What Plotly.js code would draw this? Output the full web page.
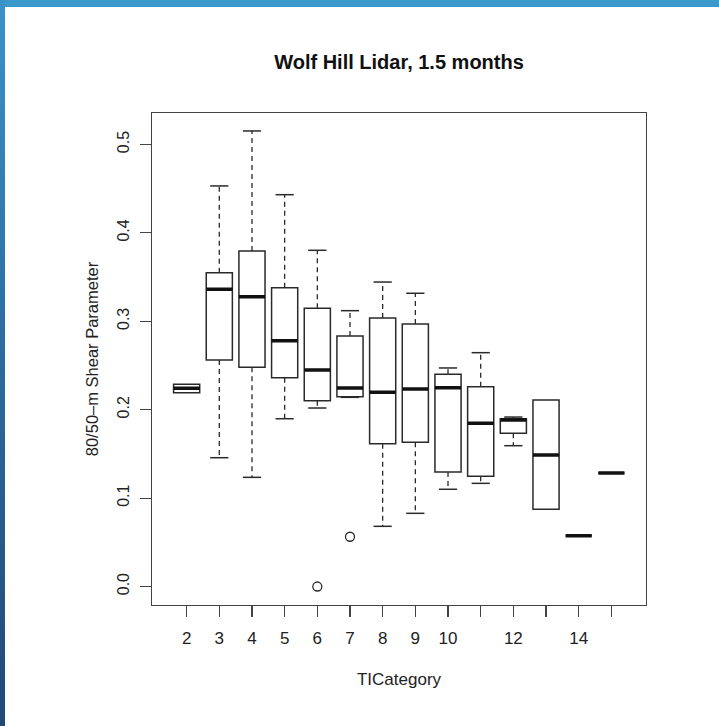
<!DOCTYPE html>
<html>
<head>
<meta charset="utf-8">
<script src="https://cdn.plot.ly/plotly-3.0.1.min.js"></script>
<style>
  html, body { margin: 0; padding: 0; background: #ffffff; overflow: hidden; }
  #topband { position: absolute; left: 0; top: 0; width: 719px; height: 7px; background: #3b98cb; z-index: 2; }
  #leftband { position: absolute; left: 0; top: 0; width: 5px; height: 726px;
              background: linear-gradient(to bottom, #3a93c8 0%, #2d6ea3 45%, #224876 100%); z-index: 2; }
  #chart { position: absolute; left: 0; top: 0; width: 719px; height: 726px; }
</style>
</head>
<body>
<div id="chart"></div>
<div id="topband"></div>
<div id="leftband"></div>
<script>
// ---- data ----
var categories = [2, 3, 4, 5, 6, 7, 8, 9, 10, 11, 12, 13, 14, 15];
var tickLabels = ['2', '3', '4', '5', '6', '7', '8', '9', '10', '', '12', '', '14', ''];
var lowerWhisker = [0.2192, 0.1457, 0.1235, 0.1898, 0.2019, 0.2140, 0.0681, 0.0828, 0.1100, 0.1167, 0.1593, 0.0873, 0.0575, 0.1284];
var q1Values     = [0.2192, 0.2562, 0.2480, 0.2362, 0.2102, 0.2147, 0.1615, 0.1631, 0.1295, 0.1247, 0.1733, 0.0873, 0.0575, 0.1284];
var medianValues = [0.2242, 0.3362, 0.3278, 0.2780, 0.2449, 0.2245, 0.2197, 0.2234, 0.2249, 0.1846, 0.1883, 0.1488, 0.0575, 0.1284];
var q3Values     = [0.2287, 0.3550, 0.3795, 0.3380, 0.3147, 0.2834, 0.3037, 0.2969, 0.2400, 0.2260, 0.1898, 0.2110, 0.0575, 0.1284];
var upperWhisker = [0.2287, 0.4531, 0.5153, 0.4432, 0.3803, 0.3120, 0.3444, 0.3317, 0.2472, 0.2645, 0.1917, 0.2110, 0.0575, 0.1284];
var outlierCats   = [6, 7];
var outlierValues = [0.0, 0.0563];

// ---- build traces ----
var ink = '#2a2a2a';
var wx = [], wy = [], cx = [], cy = [];
for (var i = 0; i < categories.length; i++) {
  if (upperWhisker[i] > q3Values[i]) {
    wx.push(categories[i], categories[i], null);
    wy.push(q3Values[i], upperWhisker[i], null);
    cx.push(categories[i]); cy.push(upperWhisker[i]);
  }
  if (lowerWhisker[i] < q1Values[i]) {
    wx.push(categories[i], categories[i], null);
    wy.push(q1Values[i], lowerWhisker[i], null);
    cx.push(categories[i]); cy.push(lowerWhisker[i]);
  }
}

var boxes = {
  type: 'box', x: categories,
  q1: q1Values, median: medianValues, q3: q3Values,
  lowerfence: q1Values, upperfence: q3Values,
  width: 0.8, whiskerwidth: 0, boxpoints: false,
  fillcolor: '#ffffff', line: { color: ink, width: 1.5 },
  hoverinfo: 'skip', showlegend: false
};
var medians = {
  type: 'box', x: categories,
  q1: medianValues, median: medianValues, q3: medianValues,
  lowerfence: medianValues, upperfence: medianValues,
  width: 0.8, whiskerwidth: 0, boxpoints: false,
  fillcolor: 'rgba(0,0,0,0)', line: { color: '#111111', width: 3.5 },
  hoverinfo: 'skip', showlegend: false
};
var whiskers = {
  type: 'scatter', mode: 'lines', x: wx, y: wy,
  line: { color: ink, width: 1.3, dash: '5px,4px' },
  hoverinfo: 'skip', showlegend: false, cliponaxis: false
};
var caps = {
  type: 'scatter', mode: 'markers', x: cx, y: cy,
  marker: { symbol: 'line-ew', size: 13, line: { color: ink, width: 1.5 } },
  hoverinfo: 'skip', showlegend: false
};
var outliers = {
  type: 'scatter', mode: 'markers', x: outlierCats, y: outlierValues,
  marker: { symbol: 'circle-open', size: 9, line: { color: ink, width: 1.3 }, color: ink },
  hoverinfo: 'skip', showlegend: false, cliponaxis: false
};

var fontFam = '"Liberation Sans", Arial, Helvetica, sans-serif';
var layout = {
  width: 719, height: 726,
  paper_bgcolor: 'rgba(0,0,0,0)', plot_bgcolor: 'rgba(0,0,0,0)',
  margin: { l: 152, r: 73, t: 113, b: 121 },
  font: { family: fontFam, size: 17, color: '#222222' },
  hovermode: false,
  boxmode: 'overlay',
  title: {
    text: '<b>Wolf Hill Lidar, 1.5 months</b>',
    font: { family: fontFam, size: 20, color: '#111111' },
    x: 0.5, xref: 'paper', xanchor: 'center',
    y: 1 - 62 / 726, yref: 'container', yanchor: 'middle'
  },
  xaxis: {
    range: [0.94, 16.06], tickmode: 'array', tickvals: categories, ticktext: tickLabels,
    showgrid: false, zeroline: false, showline: true, mirror: true,
    linecolor: '#444444', linewidth: 1.3,
    ticks: 'outside', ticklen: 11, tickwidth: 1.2, tickcolor: '#444444',
    ticklabelstandoff: 6,
    tickfont: { family: fontFam, size: 17, color: '#222222' },
    title: { text: 'TICategory', font: { family: fontFam, size: 17, color: '#222222' }, standoff: 26 }
  },
  yaxis: {
    range: [-0.0209, 0.5356], tickmode: 'array',
    tickvals: [0, 0.1, 0.2, 0.3, 0.4, 0.5], ticktext: ['0.0', '0.1', '0.2', '0.3', '0.4', '0.5'],
    tickangle: -90,
    showgrid: false, zeroline: false, showline: true, mirror: true,
    linecolor: '#444444', linewidth: 1.3,
    ticks: 'outside', ticklen: 11, tickwidth: 1.2, tickcolor: '#444444',
    ticklabelstandoff: 4,
    tickfont: { family: fontFam, size: 16, color: '#222222' },
    title: { text: '80/50–m Shear Parameter', font: { family: fontFam, size: 16.5, color: '#222222' }, standoff: 12 }
  }
};

Plotly.newPlot('chart', [boxes, whiskers, caps, medians, outliers], layout, { staticPlot: true, displayModeBar: false });
</script>
</body>
</html>
